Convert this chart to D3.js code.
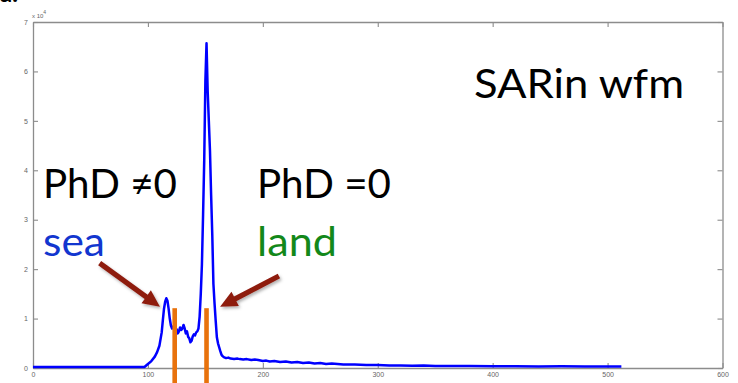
<!DOCTYPE html>
<html>
<head>
<meta charset="utf-8">
<script src="https://cdn.jsdelivr.net/npm/d3@7"></script>
<style>
  html, body { margin: 0; padding: 0; background: #fff; }
  svg { display: block; }
</style>
</head>
<body>
<svg id="chart" width="738" height="383"></svg>
<script>
// SARin waveform: range bin vs. received power
const bins = [0, 60, 97, 100, 103, 106, 108, 110, 112, 113, 114, 115, 116, 117, 118, 119,
  120, 121, 122, 123, 124, 125, 126, 127, 128, 129, 130, 131, 132, 133, 134, 135, 136, 137,
  138, 139, 140, 141, 142, 143, 144, 145, 146, 147, 148, 149, 150, 151, 152, 153, 154, 155,
  156, 157, 158, 159, 160, 161, 162, 163, 164, 165, 166, 168, 170, 172, 175, 178, 180, 183,
  186, 190, 193, 196, 200, 203, 206, 210, 215, 220, 225, 230, 235, 240, 245, 250, 255, 260,
  270, 280, 290, 300, 310, 320, 330, 340, 350, 360, 380, 400, 420, 440, 460, 480, 500, 512];
const power = [200, 200, 200, 800, 1400, 2300, 3200, 4500, 7200, 9700, 12000, 13400, 14100,
  13600, 12000, 10000, 8600, 8000, 8400, 7600, 7400, 7800, 7000, 7400, 8200, 7700, 8000, 8700,
  8000, 7000, 7400, 6300, 6000, 5200, 5500, 6400, 6800, 6600, 7200, 7400, 8000, 10400, 15000,
  21000, 31000, 42000, 58000, 65700, 56000, 50000, 44000, 35000, 27000, 17000, 13000, 9500,
  6200, 5000, 4200, 3400, 2700, 2400, 2200, 2000, 2100, 1900, 1800, 1900, 1800, 1700, 1800,
  1600, 1700, 1600, 1400, 1500, 1300, 1400, 1200, 1300, 1100, 1200, 1000, 1100, 900, 1000,
  800, 900, 700, 700, 600, 600, 500, 500, 450, 500, 400, 400, 400, 350, 350, 300, 350, 300,
  300, 300];

const xTicks = [0, 100, 200, 300, 400, 500, 600];
const yTicks = [0, 10000, 20000, 30000, 40000, 50000, 60000, 70000];

// phase-difference markers (bin, power at top of marker)
const markerBins = [123.3, 151.0];
const markerTop = 12100;

// annotation arrows: [fromBin, fromPower, toBin, toPower]
const arrows = [
  [58, 21200, 110.5, 12400],
  [214, 18600, 162.8, 12400]
];

const labels = [
  { text: "SARin wfm", x: 474, y: 98, w: 210, color: "#000" },
  { text: "PhD \u22600", x: 43, y: 198, w: 134, color: "#000" },
  { text: "sea", x: 43, y: 256, w: 62, color: "#1236cf" },
  { text: "PhD =0", x: 257, y: 198, w: 134, color: "#000" },
  { text: "land", x: 257, y: 256, w: 80, color: "#13881a" }
];

const W = 738, H = 383;
const m = { left: 33, top: 22, right: 15.5, bottom: 15 };
const svg = d3.select("#chart");

const x = d3.scaleLinear().domain([0, 600]).range([m.left, W - m.right]);
const y = d3.scaleLinear().domain([0, 70000]).range([H - m.bottom, m.top]);

const axisColor = "#8c8c8c";
const tickFont = "Liberation Sans, Arial, sans-serif";

function styleAxis(g) {
  g.selectAll("path.domain").attr("stroke", axisColor).attr("stroke-width", 1.3);
  g.selectAll(".tick line").attr("stroke", axisColor).attr("stroke-width", 1.1);
  g.selectAll(".tick text").attr("fill", "#666").attr("font-size", 7).attr("font-family", tickFont);
}

// drop shadow for arrows
const defs = svg.append("defs");
const f = defs.append("filter").attr("id", "shadow").attr("x", "-30%").attr("y", "-30%")
  .attr("width", "160%").attr("height", "160%");
f.append("feDropShadow").attr("dx", 1.5).attr("dy", 2).attr("stdDeviation", 1.5)
  .attr("flood-color", "#000").attr("flood-opacity", 0.3);

// axes, ticks pointing inward
svg.append("g").attr("transform", `translate(0,${H - m.bottom})`)
  .call(d3.axisBottom(x).tickValues(xTicks).tickSizeInner(-5).tickSizeOuter(0).tickPadding(4))
  .call(styleAxis);
svg.append("g").attr("transform", `translate(0,${m.top})`)
  .call(d3.axisTop(x).tickValues(xTicks).tickSizeInner(-5).tickSizeOuter(0).tickFormat(""))
  .call(styleAxis);
svg.append("g").attr("transform", `translate(${m.left},0)`)
  .call(d3.axisLeft(y).tickValues(yTicks).tickSizeInner(-5).tickSizeOuter(0).tickPadding(5)
    .tickFormat(d => d / 10000))
  .call(styleAxis);
svg.append("g").attr("transform", `translate(${W - m.right},0)`)
  .call(d3.axisRight(y).tickValues(yTicks).tickSizeInner(-5).tickSizeOuter(0).tickFormat(""))
  .call(styleAxis);

// exponent label
const expo = svg.append("text").attr("x", m.left - 1).attr("y", m.top - 4.5)
  .attr("font-family", tickFont).attr("font-size", 6).attr("fill", "#666");
expo.append("tspan").text("x 10");
expo.append("tspan").attr("font-size", 5).attr("dy", -3.5).text("4");

// waveform
const line = d3.line().x((d, i) => x(bins[i])).y(d => y(d));
svg.append("path").datum(power)
  .attr("d", line)
  .attr("fill", "none")
  .attr("stroke", "#0000ff")
  .attr("stroke-width", 2.5)
  .attr("stroke-linejoin", "round");

// orange markers
svg.selectAll("rect.marker").data(markerBins).join("rect")
  .attr("class", "marker")
  .attr("x", d => x(d) - 2.3)
  .attr("width", 4.6)
  .attr("y", y(markerTop))
  .attr("height", H - y(markerTop))
  .attr("fill", "#e8720c");

// arrows
function arrowPath(x1, y1, x2, y2) {
  const dx = x2 - x1, dy = y2 - y1, len = Math.hypot(dx, dy);
  const ux = dx / len, uy = dy / len, nx = -uy, ny = ux;
  const hl = 17, hw = 8, sw = 2.6;
  const bx = x2 - ux * hl, by = y2 - uy * hl;
  const pts = [
    [x1 + nx * sw, y1 + ny * sw],
    [bx + nx * sw, by + ny * sw],
    [bx + nx * hw, by + ny * hw],
    [x2, y2],
    [bx - nx * hw, by - ny * hw],
    [bx - nx * sw, by - ny * sw],
    [x1 - nx * sw, y1 - ny * sw]
  ];
  return "M" + pts.map(p => p.join(",")).join("L") + "Z";
}
svg.selectAll("path.arrow").data(arrows).join("path")
  .attr("class", "arrow")
  .attr("d", d => arrowPath(x(d[0]), y(d[1]), x(d[2]), y(d[3])))
  .attr("fill", "#8e1b10")
  .attr("filter", "url(#shadow)");

// text labels
svg.selectAll("text.lbl").data(labels).join("text")
  .attr("class", "lbl")
  .attr("x", d => d.x).attr("y", d => d.y)
  .attr("font-family", "Lato, 'Open Sans', sans-serif")
  .attr("font-size", 41)
  .attr("textLength", d => d.w)
  .attr("lengthAdjust", "spacingAndGlyphs")
  .attr("fill", d => d.color)
  .text(d => d.text);

// panel letter, mostly cut off at the top edge
svg.append("text").attr("x", 0).attr("y", 1.5)
  .attr("font-family", "Lato, sans-serif").attr("font-size", 24).attr("font-weight", "bold")
  .attr("fill", "#000").text("a.");
</script>
</body>
</html>
